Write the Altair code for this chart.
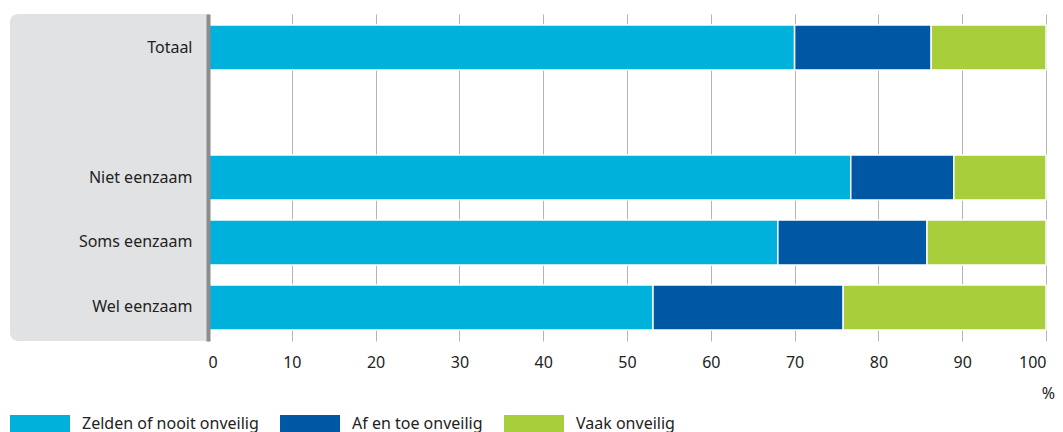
import altair as alt
import pandas as pd

categories = ["Totaal", "Niet eenzaam", "Soms eenzaam", "Wel eenzaam"]
y_domain = ["Totaal", " ", "Niet eenzaam", "Soms eenzaam", "Wel eenzaam"]
series = ["Zelden of nooit onveilig", "Af en toe onveilig", "Vaak onveilig"]
colors = ["#00b1dc", "#0058a5", "#a8ce3c"]
zelden = [70.0, 76.7, 68.0, 53.1]
af_en_toe = [16.3, 12.3, 17.8, 22.7]
vaak = [13.7, 11.0, 14.2, 24.2]
x_ticks = [0, 10, 20, 30, 40, 50, 60, 70, 80, 90, 100]

rows = []
for i, c in enumerate(categories):
    for j, (s, vals) in enumerate(zip(series, [zelden, af_en_toe, vaak])):
        rows.append({"cat": c, "serie": s, "value": vals[i], "ord": j})
df = pd.DataFrame(rows)

FONT = "Noto Sans"
W, H = 838, 327

panel = alt.Chart(alt.Data(values=[{"a": 1}])).mark_rect(
    color="#e1e2e4", cornerRadiusTopLeft=8, cornerRadiusBottomLeft=8
).encode(
    x=alt.value(-198), x2=alt.value(0), y=alt.value(0), y2=alt.value(H)
)

bars = alt.Chart(df).mark_bar(stroke="white", strokeWidth=1.5).encode(
    y=alt.Y("cat:N", scale=alt.Scale(domain=y_domain, paddingInner=0.308, paddingOuter=0.17),
            axis=alt.Axis(title=None, ticks=False, domainColor="#8c8c8c", domainWidth=4,
                          labelFontSize=16, labelColor="#222", labelFont=FONT,
                          labelPadding=16, zindex=1)),
    x=alt.X("value:Q", stack="zero", scale=alt.Scale(domain=[0, 100], nice=False),
            axis=alt.Axis(values=x_ticks, title="%", titleFontWeight="normal",
                          titleFontSize=16, titleColor="#222", titleFont=FONT,
                          titleX=840, titleY=57, titleAlign="center", titleBaseline="alphabetic",
                          grid=True, gridColor="#b4b4b4", gridWidth=1, domain=False,
                          ticks=False, labelFontSize=16, labelColor="#222", labelFont=FONT,
                          labelPadding=13, zindex=0)),
    color=alt.Color("serie:N", scale=alt.Scale(domain=series, range=colors),
                    legend=alt.Legend(title=None, orient="none", direction="horizontal",
                                      legendX=-198, legendY=380, padding=0,
                                      symbolType="M-1,-0.3H1V0.3H-1Z", symbolSize=3600,
                                      symbolStrokeWidth=0, symbolOpacity=1,
                                      labelFontSize=16, labelColor="#222", labelFont=FONT,
                                      labelLimit=400,
                                      labelOffset=12, columnPadding=21)),
    order=alt.Order("ord:Q"),
)

chart = alt.layer(panel, bars).properties(
    width=W, height=H,
    autosize=alt.AutoSizeParams(type="none"),
    padding={"left": 200, "top": 6, "right": 9, "bottom": 91},
).configure_view(stroke=None)

chart.save("out.html", embed_options={"renderer": "svg", "actions": False})
